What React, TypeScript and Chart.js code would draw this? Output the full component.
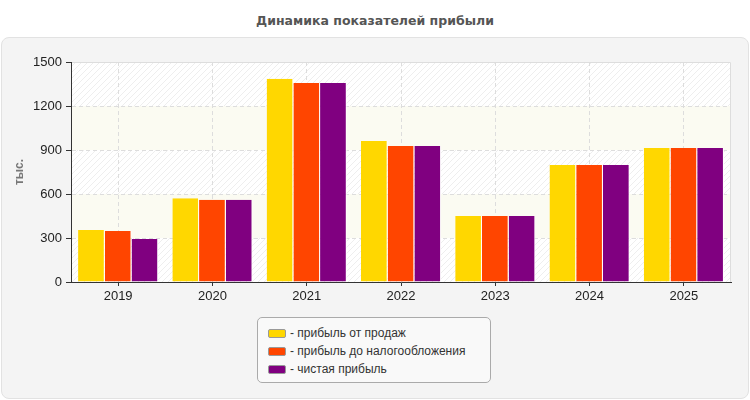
import React, { useEffect, useRef } from 'react';
import { Chart, registerables } from 'chart.js';

Chart.register(...registerables);

// data
const years = ['2019', '2020', '2021', '2022', '2023', '2024', '2025'];
const salesProfit = [355, 571, 1385, 962, 450, 798, 914];
const preTaxProfit = [348, 560, 1357, 928, 450, 798, 914];
const netProfit = [293, 560, 1357, 928, 450, 798, 914];
const yTicks = [0, 300, 600, 900, 1200, 1500];

const seriesNames = ['прибыль от продаж', 'прибыль до налогообложения', 'чистая прибыль'];
const seriesColors = ['#ffd700', '#ff4500', '#800080'];

const font = '"Liberation Sans", Arial, sans-serif';

function makeHatch(ctx: CanvasRenderingContext2D) {
  const c = document.createElement('canvas');
  c.width = 6;
  c.height = 6;
  const g = c.getContext('2d')!;
  g.fillStyle = '#ffffff';
  g.fillRect(0, 0, 6, 6);
  g.strokeStyle = '#eeeeee';
  g.lineWidth = 1;
  g.beginPath();
  g.moveTo(0, 6);
  g.lineTo(6, 0);
  g.moveTo(-3, 3);
  g.lineTo(3, -3);
  g.moveTo(3, 9);
  g.lineTo(9, 3);
  g.stroke();
  return ctx.createPattern(c, 'repeat');
}

// striped plot background: hatched and pale yellow bands between y ticks
const plotBackground = {
  id: 'plotBackground',
  beforeDraw(chart: any) {
    const { ctx, chartArea } = chart;
    const y = chart.scales.y;
    const hatch = makeHatch(ctx);
    ctx.save();
    for (let i = 0; i < yTicks.length - 1; i++) {
      const top = y.getPixelForValue(yTicks[i + 1]);
      const bottom = y.getPixelForValue(yTicks[i]);
      ctx.fillStyle = i % 2 === 0 ? hatch : '#fbfbf2';
      ctx.fillRect(chartArea.left, top, chartArea.right - chartArea.left, bottom - top);
    }
    ctx.strokeStyle = '#dddddd';
    ctx.lineWidth = 1;
    ctx.beginPath();
    ctx.moveTo(chartArea.left, chartArea.top + 0.5);
    ctx.lineTo(chartArea.right - 0.5, chartArea.top + 0.5);
    ctx.lineTo(chartArea.right - 0.5, chartArea.bottom);
    ctx.stroke();
    ctx.restore();
  },
};

export default function App() {
  const canvasRef = useRef<HTMLCanvasElement | null>(null);

  useEffect(() => {
    document.body.style.margin = '0';
    const ctx = canvasRef.current;
    if (!ctx) return;

    const values = [salesProfit, preTaxProfit, netProfit];

    const chart = new Chart(ctx, {
      type: 'bar',
      data: {
        labels: years,
        datasets: values.map((data, i) => ({
          label: seriesNames[i],
          data,
          backgroundColor: seriesColors[i],
          borderColor: '#ffffff',
          borderWidth: { top: 0, left: 0, bottom: 0, right: 1 },
          barPercentage: 1,
          categoryPercentage: 0.85,
        })),
      },
      options: {
        animation: false,
        responsive: false,
        maintainAspectRatio: false,
        layout: { padding: { left: 0, top: 62, right: 19, bottom: 88 } },
        plugins: {
          legend: { display: false },
          tooltip: { enabled: false },
        },
        scales: {
          x: {
            afterFit: (s: any) => {
              s.height = 30;
            },
            grid: {
              offset: false,
              color: '#dddddd',
              tickColor: '#333333',
              tickLength: 4,
            },
            border: { color: '#333333', width: 1, dash: [4, 3] },
            ticks: {
              color: '#222222',
              font: { family: font, size: 13 },
              padding: 3,
            },
          },
          y: {
            min: 0,
            max: 1500,
            afterFit: (s: any) => {
              s.width = 71;
            },
            afterBuildTicks: (s: any) => {
              s.ticks = yTicks.map((v) => ({ value: v }));
            },
            grid: {
              color: (c: any) => (c.tick && c.tick.value === 1500 ? 'rgba(0,0,0,0)' : '#dddddd'),
              tickColor: '#333333',
              tickLength: 5,
            },
            border: { color: '#333333', width: 1, dash: [4, 3] },
            ticks: {
              color: '#222222',
              font: { family: font, size: 13 },
              padding: 4,
              callback: (v: any) => String(v),
            },
            title: {
              display: true,
              text: 'тыс.',
              color: '#777777',
              font: { family: font, size: 12, weight: 'bold' },
              padding: { top: 12, bottom: 0 },
            },
          },
        },
      },
      plugins: [plotBackground],
    } as any);

    return () => {
      chart.destroy();
    };
  }, []);

  return (
    <div style={{ position: 'relative', width: 750, height: 400, fontFamily: font, background: '#ffffff' }}>
      <div
        style={{
          position: 'absolute',
          left: 0,
          right: 0,
          top: 13,
          textAlign: 'center',
          fontFamily: '"DejaVu Sans", Verdana, sans-serif',
          fontWeight: 'bold',
          fontSize: 12.5,
          color: '#555555',
        }}
      >
        Динамика показателей прибыли
      </div>
      <div
        style={{
          position: 'absolute',
          left: 1,
          top: 37,
          width: 746,
          height: 360,
          background: '#f4f4f4',
          border: '1px solid #e2e2e2',
          borderRadius: 8,
        }}
      />
      <canvas ref={canvasRef} width={750} height={400} style={{ position: 'absolute', left: 0, top: 0 }} />
      <div
        style={{
          position: 'absolute',
          left: 257,
          top: 317,
          width: 232,
          height: 64,
          border: '1px solid #aaaaaa',
          borderRadius: 5,
          background: '#f9f9f9',
          boxSizing: 'content-box',
        }}
      >
        {seriesNames.map((name, i) => (
          <div
            key={name}
            style={{
              position: 'absolute',
              left: 10,
              top: 6 + i * 18,
              height: 18,
              display: 'flex',
              alignItems: 'center',
              fontSize: 12,
              color: '#333333',
              whiteSpace: 'nowrap',
            }}
          >
            <span
              style={{
                display: 'inline-block',
                width: 16,
                height: 7,
                background: seriesColors[i],
                border: '1px solid #999999',
                borderRadius: 2,
                marginRight: 4,
              }}
            />
            - {name}
          </div>
        ))}
      </div>
    </div>
  );
}
